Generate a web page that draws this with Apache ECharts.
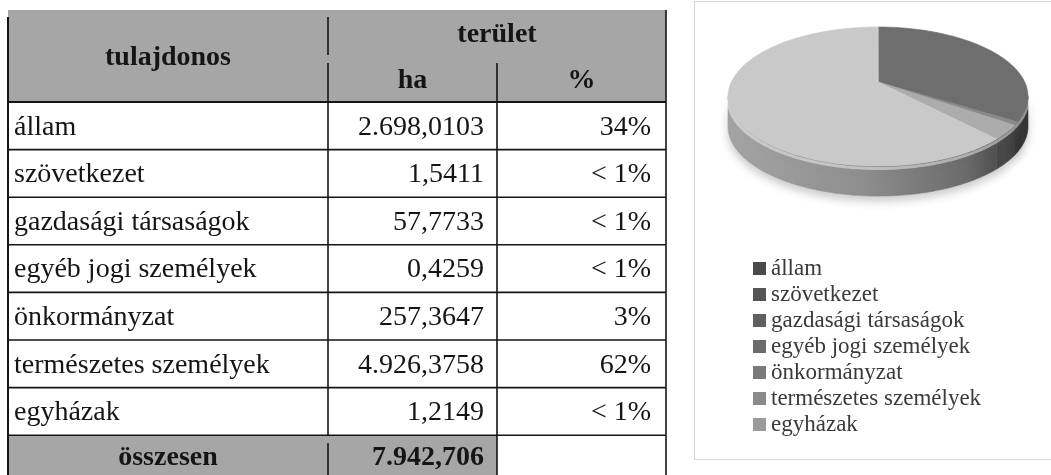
<!DOCTYPE html>
<html>
<head>
<meta charset="utf-8">
<title>Tulajdonviszonyok</title>
<script src="https://cdn.jsdelivr.net/npm/echarts@6/dist/echarts.min.js"></script>
<style>
  html, body { margin: 0; padding: 0; background: #fff; }
  #chart { width: 1051px; height: 475px; }
</style>
</head>
<body>
<div id="chart"></div>
<script>
// data
const owners = ['állam', 'szövetkezet', 'gazdasági társaságok', 'egyéb jogi személyek', 'önkormányzat', 'természetes személyek', 'egyházak'];
const areaHa = [2698.0103, 1.5411, 57.7733, 0.4259, 257.3647, 4926.3758, 1.2149];
const headerLabels = ['tulajdonos', 'terület', 'ha', '%'];
const totalLabel = 'összesen';

// colours
const sliceColors = ['#6e6e6e', '#7c7c7c', '#8a8a8a', '#989898', '#acacac', '#c9c9c9', '#d2d2d2'];
const legendColors = ['#4a4a4a', '#555555', '#606060', '#6b6b6b', '#7a7a7a', '#8a8a8a', '#9a9a9a'];

const total = areaHa.reduce((a, b) => a + b, 0);

// hungarian number format: 2.698,0103
function fmtHu(v) {
    let s = v.toFixed(4).replace(/0+$/, '').replace(/\.$/, '');
    let parts = s.split('.');
    let i = parts[0].replace(/\B(?=(\d{3})+(?!\d))/g, '.');
    return parts[1] ? i + ',' + parts[1] : i;
}
function fmtPct(v) {
    const p = v / total * 100;
    return p < 1 ? '< 1%' : Math.round(p) + '%';
}

// ---------- table (graphic) ----------
const T = { left: 8, c1: 328, c2: 497, right: 666, top: 10, head: 102, rowH: 47.6, bottom: 480 };
const ink = '#151515';
const serif = 'Liberation Serif';
const els = [];

function line(x1, y1, x2, y2, w) {
    els.push({ type: 'line', shape: { x1: x1, y1: y1, x2: x2, y2: y2 }, style: { stroke: ink, lineWidth: w || 1.6 } });
}
function text(str, x, y, align, bold) {
    els.push({
        type: 'text', x: x, y: y,
        style: {
            text: str, fill: ink, align: align, verticalAlign: 'middle',
            fontFamily: serif, fontSize: 28, fontWeight: bold ? 'bold' : 'normal'
        }
    });
}

const totalTop = T.head + owners.length * T.rowH;
els.push({ type: 'rect', shape: { x: 694.5, y: 1.5, width: 420, height: 458 }, style: { fill: '#fff', stroke: '#d6d6d6', lineWidth: 1 } });
els.push({ type: 'rect', shape: { x: T.left, y: T.top, width: T.right - T.left, height: T.head - T.top }, style: { fill: '#a6a6a6' } });
els.push({ type: 'rect', shape: { x: T.left, y: totalTop, width: T.c2 - T.left, height: T.bottom - totalTop }, style: { fill: '#a6a6a6' } });

// header
text(headerLabels[0], (T.left + T.c1) / 2, 58, 'center', true);
text(headerLabels[1], (T.c1 + T.right) / 2, 35, 'center', true);
text(headerLabels[2], (T.c1 + T.c2) / 2, 81, 'center', true);
text(headerLabels[3], (T.c2 + T.right) / 2, 81, 'center', true);

// rows
owners.forEach((name, i) => {
    const yc = T.head + (i + 0.5) * T.rowH + 1.5;
    text(name, 14, yc, 'left');
    text(fmtHu(areaHa[i]), 484, yc, 'right');
    text(fmtPct(areaHa[i]), 651, yc, 'right');
    line(T.left, T.head + (i + 1) * T.rowH, T.right, T.head + (i + 1) * T.rowH);
});
text(totalLabel, (T.left + T.c1) / 2, totalTop + 23, 'center', true);
text(fmtHu(total), 484, totalTop + 23, 'right', true);

// grid lines
line(T.left, T.head, T.right, T.head, 2.2);
line(T.left, 17, T.left, T.bottom, 2);
line(T.right, T.top, T.right, T.bottom, 1.6);
line(T.c1, 17, T.c1, 55);
line(T.c1, 63, T.c1, totalTop);
line(T.c1, totalTop + 8, T.c1, T.bottom);
line(T.c2, 63, T.c2, T.bottom);

// ---------- 3d pie (custom series) ----------
const PIE = { cx: 878, cy: 82, A: 66.5, B: 146.7, k: 0.2086, h: 30 };
const startAngles = [];
let acc = 0;
areaHa.forEach(v => { startAngles.push(acc / total * 360); acc += v; });

function project(deg, dy) {
    const r = deg * Math.PI / 180;
    const u = Math.sin(r), v = -Math.cos(r);
    const s = 1 / (1 - PIE.k * v);
    return [PIE.cx + PIE.B * u * s, PIE.cy + PIE.A * v * s + (dy || 0)];
}
function arc(a0, a1, dy) {
    const n = Math.max(2, Math.ceil(a1 - a0));
    const pts = [];
    for (let i = 0; i <= n; i++) pts.push(project(a0 + (a1 - a0) * i / n, dy));
    return pts;
}
const sideFrom = Math.acos(-PIE.k) * 180 / Math.PI;
const sideTo = 360 - sideFrom;
const sideFill = new echarts.graphic.LinearGradient(PIE.cx - 150, 0, PIE.cx + 150, 0, [
    { offset: 0, color: '#a4a4a4' },
    { offset: 0.45, color: '#8e8e8e' },
    { offset: 0.8, color: '#6a6a6a' },
    { offset: 1, color: '#333333' }
], true);

function renderSlice(params, api) {
    const i = params.seriesIndex;
    const value = api.value(0);
    const a0 = startAngles[i];
    const a1 = a0 + value / total * 360;
    const c = sliceColors[i];
    const children = [];
    const s0 = Math.max(a0, sideFrom), s1 = Math.min(a1, sideTo);
    if (s1 > s0) {
        const pts = arc(s0, s1, 0).concat(arc(s0, s1, PIE.h).reverse());
        children.push({
            type: 'polygon', z2: 1,
            shape: { points: pts },
            style: { fill: sideFill, stroke: sideFill, lineWidth: 0.6, shadowBlur: 8, shadowOffsetY: 5, shadowColor: 'rgba(0,0,0,0.2)' }
        });
        children.push({
            type: 'polyline', z2: 2,
            shape: { points: arc(s0, s1, 2.5) },
            style: { stroke: 'rgba(255,255,255,0.45)', lineWidth: 3, fill: null }
        });
    }
    children.push({
        type: 'polygon', z2: 10,
        shape: { points: [[PIE.cx, PIE.cy]].concat(arc(a0, a1, 0)) },
        style: { fill: c, stroke: c, lineWidth: 0.6 }
    });
    return { type: 'group', children: children };
}

const chart = echarts.init(document.getElementById('chart'));
chart.setOption({
    animation: false,
    graphic: { elements: els },
    legend: {
        orient: 'vertical',
        left: 748,
        top: 252,
        icon: 'rect',
        itemWidth: 13,
        itemHeight: 13,
        itemGap: 3,
        selectedMode: false,
        textStyle: { fontFamily: serif, fontSize: 23, color: '#3a3a3a', lineHeight: 22 },
        data: owners.map((n, i) => ({ name: n, itemStyle: { color: legendColors[i] } }))
    },
    series: owners.map((n, i) => ({
        type: 'custom',
        name: n,
        coordinateSystem: 'none',
        silent: true,
        itemStyle: { color: sliceColors[i] },
        data: [areaHa[i]],
        renderItem: renderSlice
    }))
});
</script>
</body>
</html>
